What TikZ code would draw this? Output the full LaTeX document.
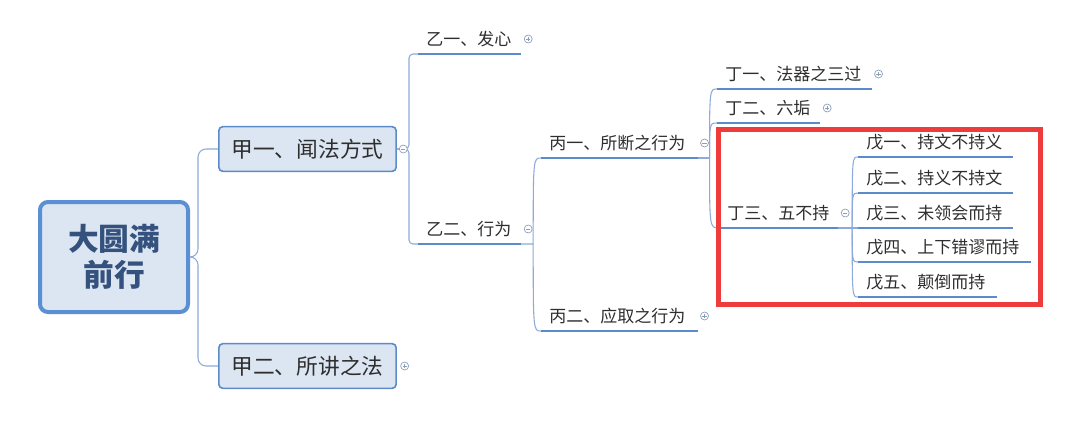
\documentclass[tikz,border=0pt]{standalone}
\usepackage{fontspec}
\setmainfont{Noto Sans CJK SC}
\usepackage{tikz}
\usetikzlibrary{positioning, calc}

\definecolor{boxfill}{HTML}{DCE6F2}
\definecolor{boxline}{HTML}{5B8BC9}
\definecolor{rootline}{HTML}{5B8FD3}
\definecolor{roottxt}{HTML}{35527E}
\definecolor{txt}{HTML}{2E2E2E}
\definecolor{ulc}{HTML}{5B8BCB}
\definecolor{conc}{HTML}{8DAAD8}
\definecolor{foldc}{HTML}{8C9DB8}
\definecolor{redc}{HTML}{EE3B3B}

\begin{document}
\begin{tikzpicture}[x=0.75pt, y=-0.75pt,
      rootbox/.style={draw=rootline,line width=3pt,fill=boxfill,rounded corners=6pt,
                      minimum width=111pt,minimum height=82.5pt,align=center,
                      text=roottxt,font=\fontsize{23}{27}\selectfont\bfseries},
      mainbox/.style={draw=boxline,line width=1.2pt,fill=boxfill,rounded corners=3pt,
                      minimum width=133pt,minimum height=33.5pt,
                      text=txt,font=\fontsize{16.3}{19}\selectfont},
      sub/.style={anchor=south west,inner xsep=6pt,inner ysep=6.4pt,text depth=0pt,
                  align=left,text=txt,font=\fontsize{12.75}{15}\selectfont},
      uline/.style={ulc,line width=2pt},
      conn/.style={conc,line width=0.8pt},
      fold/.style={circle,draw=foldc,line width=0.5pt,fill=white,inner sep=0pt,minimum size=6pt},
      foldminus/.style={fold,path picture={\draw[foldc,line width=0.5pt]
            ([xshift=-1.6pt]path picture bounding box.center) -- ([xshift=1.6pt]path picture bounding box.center);}},
      foldplus/.style={fold,path picture={\draw[foldc,line width=0.5pt]
            ([xshift=-1.6pt]path picture bounding box.center) -- ([xshift=1.6pt]path picture bounding box.center)
            ([yshift=-1.6pt]path picture bounding box.center) -- ([yshift=1.6pt]path picture bounding box.center);}},
      redbox/.style={draw=redc,line width=3.75pt}]

    \useasboundingbox[fill=white] (0,0) rectangle (1080,429);

    % root and first level
    \node[rootbox] (root) at (114,257) {大圆满\\前行};
    \node[mainbox] (jia1) at (307.5,149) {甲一、闻法方式};
    \node[mainbox] (jia2) at (307.5,366) {甲二、所讲之法};

    % second and third level
    \node[sub, text width=65pt]    (yi1)   at (418,54)  {乙一、发心};
    \node[sub, text width=65pt]    (yi2)   at (418,244) {乙二、行为};
    \node[sub, text width=105pt]   (bing1) at (541,158) {丙一、所断之行为};
    \node[sub, text width=105pt]   (bing2) at (541,331) {丙二、应取之行为};

    % fourth level
    \node[sub, text width=103.5pt] (ding1) at (717,89)  {丁一、法器之三过};
    \node[sub, text width=65pt]    (ding2) at (717,123) {丁二、六垢};
    \node[sub, text width=77pt]    (ding3) at (719,228) {丁三、五不持};

    % fifth level
    \node[sub, text width=103.5pt] (wu1) at (858,157) {戊一、持文不持义};
    \node[sub, text width=103.5pt] (wu2) at (858,193) {戊二、持义不持文};
    \node[sub, text width=103.5pt] (wu3) at (858,228) {戊三、未领会而持};
    \node[sub, text width=117pt]   (wu4) at (858,262) {戊四、上下错谬而持};
    \node[sub, text width=91.5pt]  (wu5) at (858,297) {戊五、颠倒而持};

    % connectors
    \draw[conn, rounded corners=6] (root.east) -- ++(8,0) |- (jia1.west);
    \draw[conn, rounded corners=6] (root.east) -- ++(8,0) |- (jia2.west);
    \draw[conn, rounded corners=3] (jia1.east) -- ++(12,0) |- (yi1.south west);
    \draw[conn, rounded corners=3] (jia1.east) -- ++(12,0) |- (yi2.south west);

    \draw[conn] (yi2.south east) -- ++(12,0) coordinate (jyi2)
          .. controls (jyi2 |- bing1.south west) .. (bing1.south west);
    \draw[conn] (jyi2) .. controls (jyi2 |- bing2.south west) .. (bing2.south west);

    \draw[conn] (bing1.south east) -- ++(12,0) coordinate (jbing1);
    \foreach \n in {ding1,ding2,ding3}
      \draw[conn] (jbing1) .. controls (jbing1 |- \n.south west) .. (\n.south west);

    \draw[conn] (ding3.south east) -- ++(14,0) coordinate (jding3);
    \foreach \n in {wu1,wu2,wu3,wu4,wu5}
      \draw[conn] (jding3) .. controls (jding3 |- \n.south west) .. (\n.south west);

    \foreach \n in {yi1,yi2,bing1,bing2,ding1,ding2,ding3,wu1,wu2,wu3,wu4,wu5}
      \draw[uline] (\n.south west) -- (\n.south east);

    % fold markers
    \node[foldminus, right=1.5pt of jia1] (fjia1) {};
    \node[foldplus,  right=2.5pt of jia2] (fjia2) {};
    \node[foldplus]  (fyi1)   at ($(yi1.south east)+(7,-15)$)   {};
    \node[foldminus] (fyi2)   at ($(yi2.south east)+(7,-15)$)   {};
    \node[foldminus] (fbing1) at ($(bing1.south east)+(7,-15)$) {};
    \node[foldplus]  (fbing2) at ($(bing2.south east)+(7,-15)$) {};
    \node[foldplus]  (fding1) at ($(ding1.south east)+(7,-15)$) {};
    \node[foldplus]  (fding2) at ($(ding2.south east)+(7,-15)$) {};
    \node[foldminus] (fding3) at ($(ding3.south east)+(7,-15)$) {};

    % highlight
    \draw[redbox] (718.5,129.5) rectangle (1040.5,304.5);
  \end{tikzpicture}
\end{document}
